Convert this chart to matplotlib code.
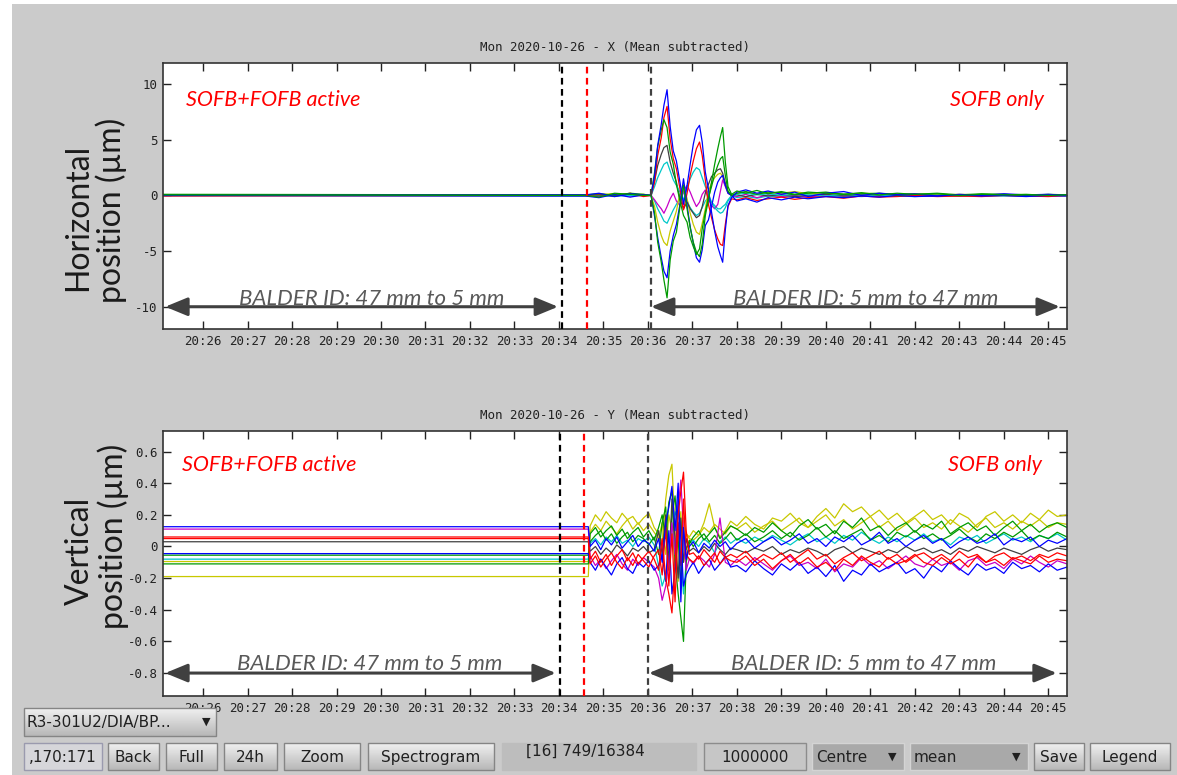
import numpy as np
import matplotlib
matplotlib.use("Agg")
import matplotlib.pyplot as plt
from matplotlib.patches import Rectangle

plt.rcParams['axes.unicode_minus'] = False

W, H = 1177, 775

# ---------------- data: horizontal plane (minutes after 20:00) ----------------
tx = [25.10, 34.60, 34.90, 35.25, 35.60, 35.90,
      36.07, 36.15, 36.22, 36.30, 36.36, 36.43, 36.50, 36.57, 36.64, 36.72,
      36.80, 36.88, 36.95, 37.02, 37.09, 37.16, 37.22, 37.29, 37.36, 37.43,
      37.50, 37.57, 37.63, 37.68, 37.74, 37.80, 37.88,
      38.00, 38.20, 38.45, 38.70, 39.00, 39.30, 39.60, 40.00, 40.40, 40.80,
      41.20, 41.60, 42.00, 42.50, 43.00, 43.50, 44.00, 44.50, 45.00, 45.42]

x_blue_a = [0.0, 0.05, 0.2, -0.1, 0.15, 0.05,
            0.0, 1.8, 4.5, 6.4, 8.1, 9.5, 6.2, 4.0, 3.1, 1.2, -0.8, 0.9, 2.8, 4.6, 5.9,
            6.3, 4.8, 2.1, 0.6, -1.5, -3.2, -4.6, -5.4, -6.0, -3.1, -0.9, -0.2,
            0.3, 0.5, 0.2, 0.4, 0.1, 0.3, -0.1, 0.2, 0.35, 0.0, 0.2, 0.1, 0.15, -0.05,
            0.1, 0.0, 0.15, 0.05, 0.1, 0.0]
x_green_a = [0.05, 0.0, -0.15, 0.2, 0.1, 0.0,
             0.0, -1.6, -4.2, -6.0, -7.6, -9.2, -5.8, -4.1, -3.3, -1.0, 0.9, -1.2, -2.9, -4.2, -5.1,
             -5.5, -4.4, -1.8, -0.4, 1.2, 2.8, 4.2, 5.3, 6.1, 3.0, 0.8, 0.1,
             0.4, 0.2, 0.45, 0.15, 0.35, 0.1, 0.3, 0.2, 0.1, 0.25, 0.05, 0.2, 0.1, 0.15,
             0.0, 0.1, 0.05, 0.1, 0.0, 0.05]
x_red_a = [-0.05, 0.0, 0.1, -0.05, 0.2, -0.1,
           0.0, 1.2, 3.6, 5.2, 7.0, 8.0, 5.1, 3.3, 2.4, 0.6, -1.3, 0.2, 1.8, 3.1, 4.2,
           4.8, 3.6, 1.4, -0.8, -2.0, -3.1, -3.9, -4.4, -4.5, -2.6, -1.0, -0.3,
           -0.4, -0.2, -0.45, -0.3, -0.15, -0.35, -0.2, -0.1, -0.25, -0.05, -0.15, -0.1, 0.0, -0.1,
           -0.05, -0.1, 0.0, -0.05, -0.1, 0.0]
x_blue_b = [0.0, -0.05, -0.2, 0.1, -0.15, 0.05,
            0.0, -1.9, -3.8, -5.6, -6.8, -7.4, -5.0, -3.6, -2.6, -0.8, 1.5, -0.9, -2.8, -4.3, -5.6,
            -6.0, -4.9, -2.7, -2.2, -1.0, 0.3, 1.2, 1.6, 1.8, 0.9, 0.2, 0.0,
            -0.5, -0.3, -0.6, -0.2, -0.4, -0.15, -0.3, -0.1, -0.2, -0.05, -0.15, 0.0, -0.1, -0.05,
            0.05, -0.05, 0.0, -0.1, 0.0, -0.05]
x_green_b = [0.1, 0.05, 0.15, 0.0, 0.2, 0.1,
             0.0, 2.1, 4.4, 5.9, 6.8, 6.1, 3.9, 2.8, 1.0, -0.5, -1.8, -2.4, -3.8, -4.6, -5.3,
             -4.8, -3.0, -1.5, -0.2, 0.8, 1.9, 2.7, 3.3, 3.5, 1.8, 0.4, 0.0,
             0.2, 0.35, 0.1, 0.3, 0.25, 0.05, 0.2, 0.3, 0.1, 0.15, 0.2, 0.05, 0.1, 0.2,
             0.05, 0.15, 0.1, 0.0, 0.1, 0.05]
x_cyan_a = [0.0, 0.0, 0.1, 0.05, 0.0, 0.05,
            0.0, 0.8, 1.6, 2.3, 2.8, 3.0, 2.2, 1.4, 0.9, 0.3, -0.4, 0.7, 1.5, 2.1, 2.5,
            2.3, 1.6, 0.8, 0.1, -0.6, -1.1, -1.4, -1.6, -1.5, -1.1, -0.5, -0.1,
            0.1, 0.2, 0.05, 0.15, 0.0, 0.1, 0.05, -0.05, 0.1, 0.0, 0.05, -0.05, 0.05, 0.0,
            0.05, -0.05, 0.0, 0.05, 0.0, 0.0]
x_cyan_b = [0.0, -0.05, 0.0, -0.1, 0.05, 0.0,
            0.0, -0.5, -1.2, -1.8, -2.3, -2.5, -1.9, -1.3, -0.8, -0.2, 0.3, -0.5, -1.1, -1.5, -1.8,
            -1.6, -1.1, -0.5, -0.2, -0.6, -0.9, -1.2, -1.2, -1.0, -0.8, -0.4, 0.0,
            -0.2, -0.1, -0.25, -0.05, -0.15, -0.1, 0.0, -0.1, -0.05, -0.1, 0.0, -0.05, -0.1, 0.0,
            -0.05, 0.0, -0.05, 0.0, -0.05, 0.0]
x_magenta = [0.0, 0.0, -0.1, 0.1, -0.05, 0.0,
             0.0, -0.4, -0.8, -1.2, -1.6, -1.0, -0.3, 0.2, -0.5, -0.9, 0.4, 0.9, 0.3, -0.4, -1.0,
             -0.6, 0.1, 0.5, -0.3, -0.9, -1.2, -0.8, 0.4, 1.4, 0.8, 0.2, 0.0,
             -0.1, 0.1, -0.2, 0.05, -0.1, 0.0, -0.15, 0.05, -0.05, 0.0, -0.1, 0.05, -0.05, 0.0,
             0.0, -0.05, 0.05, 0.0, -0.05, 0.0]
x_yellow = [0.05, 0.05, 0.1, 0.15, 0.05, 0.1,
            0.0, -1.0, -2.4, -3.6, -4.2, -4.5, -3.2, -2.3, -1.4, 0.2, 1.0, -0.3, -1.6, -2.6, -3.3,
            -3.5, -2.5, -1.2, 0.4, 1.1, 1.6, 1.9, 2.0, 1.7, 1.0, 0.3, 0.0,
            0.15, 0.3, 0.1, 0.25, 0.2, 0.35, 0.15, 0.25, 0.1, 0.2, 0.15, 0.1, 0.15, 0.05,
            0.1, 0.05, 0.1, 0.0, 0.05, 0.05]
x_gray = [0.0, 0.0, 0.05, -0.05, 0.1, 0.0,
          0.0, 1.3, 2.7, 3.7, 4.3, 4.5, 3.0, 2.0, 1.2, -0.3, -1.2, -0.6, -1.2, -1.6, -2.0,
          -1.8, -1.0, 0.2, 1.0, 1.7, 2.0, 2.3, 2.4, 2.0, 1.1, 0.3, 0.0,
          0.05, -0.1, 0.1, -0.05, 0.05, -0.1, 0.0, 0.1, -0.05, 0.05, 0.0, -0.05, 0.05, 0.0,
          -0.05, 0.05, 0.0, -0.05, 0.0, 0.0]

# ---------------- data: vertical plane ----------------
ty = [25.10, 34.66,
      34.70, 34.82, 34.94, 35.06, 35.18, 35.30, 35.42, 35.54, 35.66, 35.78, 35.90, 36.02, 36.14,
      36.24, 36.32, 36.40, 36.47, 36.54, 36.61, 36.68, 36.74, 36.80, 36.86, 36.93,
      37.02, 37.14, 37.26, 37.38, 37.50, 37.62, 37.74, 37.86,
      38.0, 38.2, 38.4, 38.6, 38.8, 39.0, 39.2, 39.4, 39.6, 39.8, 40.0, 40.2, 40.4, 40.6,
      40.8, 41.0, 41.2, 41.4, 41.6, 41.8, 42.0, 42.2, 42.4, 42.6, 42.8, 43.0, 43.2, 43.4,
      43.6, 43.8, 44.0, 44.2, 44.4, 44.6, 44.8, 45.0, 45.2, 45.42]

y_yellow_a = [-0.19, -0.19,
              0.13, 0.20, 0.16, 0.22, 0.18, 0.15, 0.21, 0.17, 0.19, 0.14, 0.18, 0.21, 0.12,
              0.08, 0.02, 0.30, 0.45, 0.52, 0.10, -0.22, -0.05, 0.18, 0.08, 0.05,
              0.04, 0.07, 0.15, 0.27, 0.12, 0.06, 0.10, 0.16,
              0.13, 0.19, 0.14, 0.11, 0.18, 0.16, 0.21, 0.15, 0.12, 0.19, 0.24, 0.18, 0.27, 0.22,
              0.25, 0.19, 0.23, 0.17, 0.21, 0.15, 0.19, 0.23, 0.17, 0.20, 0.14, 0.21, 0.18, 0.12,
              0.19, 0.22, 0.16, 0.20, 0.15, 0.21, 0.17, 0.23, 0.19, 0.20]
y_yellow_b = [-0.095, -0.095,
              0.09, 0.14, 0.10, 0.16, 0.12, 0.08, 0.13, 0.17, 0.11, 0.15, 0.10, 0.14, 0.09,
              0.05, 0.15, -0.05, 0.20, 0.10, -0.12, 0.05, 0.22, -0.10, 0.08, 0.06,
              0.10, 0.07, 0.12, 0.09, 0.14, 0.11, 0.08, 0.13,
              0.11, 0.15, 0.09, 0.13, 0.16, 0.10, 0.14, 0.18, 0.12, 0.16, 0.20, 0.13, 0.17, 0.11,
              0.15, 0.19, 0.12, 0.16, 0.10, 0.14, 0.18, 0.12, 0.15, 0.11, 0.17, 0.13, 0.09, 0.14,
              0.18, 0.12, 0.15, 0.11, 0.16, 0.13, 0.17, 0.12, 0.15, 0.14]
y_green_a = [-0.055, -0.055,
             0.08, 0.12, 0.06, 0.10, 0.13, 0.07, 0.11, 0.05, 0.09, 0.12, 0.06, 0.10, 0.04,
             0.12, 0.20, 0.05, 0.28, 0.35, -0.10, -0.30, -0.45, -0.60, -0.10, 0.02,
             0.06, 0.10, 0.04, 0.08, 0.12, 0.05, 0.09, 0.13,
             0.11, 0.07, 0.12, 0.09, 0.15, 0.10, 0.06, 0.13, 0.17, 0.11, 0.14, 0.08, 0.16, 0.12,
             0.18, 0.10, 0.13, 0.07, 0.12, 0.15, 0.09, 0.14, 0.11, 0.16, 0.08, 0.12, 0.15, 0.10,
             0.13, 0.07, 0.12, 0.16, 0.10, 0.14, 0.09, 0.13, 0.15, 0.12]
y_green_b = [-0.11, -0.11,
             0.03, 0.07, 0.10, 0.04, 0.08, 0.02, 0.06, 0.09, 0.03, 0.07, 0.05, 0.01, 0.06,
             -0.05, 0.15, 0.25, -0.10, 0.20, 0.32, 0.05, -0.25, 0.10, -0.02, 0.04,
             0.00, 0.05, 0.08, 0.03, 0.07, 0.02, 0.05, 0.09,
             0.04, 0.08, 0.03, 0.06, 0.10, 0.05, 0.09, 0.04, 0.07, 0.12, 0.06, 0.10, 0.05, 0.08,
             0.11, 0.04, 0.07, 0.03, 0.09, 0.06, 0.10, 0.05, 0.08, 0.04, 0.07, 0.11, 0.06, 0.03,
             0.08, 0.05, 0.09, 0.06, 0.10, 0.04, 0.07, 0.05, 0.09, 0.06]
y_cyan = [-0.08, -0.08,
          0.02, 0.05, 0.01, 0.06, 0.03, 0.07, 0.02, 0.04, 0.00, 0.05, 0.03, 0.06, 0.01,
          -0.12, -0.25, -0.18, -0.05, 0.10, 0.22, 0.15, -0.08, -0.30, -0.10, 0.02,
          0.04, 0.00, 0.05, 0.02, -0.04, 0.03, 0.06, 0.02,
          0.05, 0.02, 0.06, 0.03, 0.07, 0.04, 0.01, 0.05, 0.08, 0.03, 0.06, 0.02, 0.07, 0.04,
          0.09, 0.05, 0.02, 0.06, 0.03, 0.07, 0.04, 0.08, 0.03, 0.05, 0.01, 0.06, 0.04, 0.07,
          0.02, 0.05, 0.08, 0.04, 0.06, 0.03, 0.07, 0.05, 0.08, 0.04]
y_blue_a = [0.125, 0.125,
            0.00, 0.04, -0.02, 0.05, 0.01, 0.06, -0.01, 0.03, 0.07, 0.00, 0.04, 0.02, -0.03,
            0.05, -0.10, 0.15, 0.25, 0.38, 0.10, 0.40, -0.35, 0.12, -0.08, 0.00,
            0.03, -0.04, 0.02, -0.01, 0.04, 0.00, 0.03, -0.02,
            0.02, 0.05, -0.01, 0.03, 0.06, 0.01, 0.04, 0.08, 0.02, 0.05, 0.00, 0.06, 0.03, 0.07,
            0.01, 0.04, 0.09, 0.02, 0.05, 0.00, 0.04, 0.07, 0.02, 0.05, -0.01, 0.03, 0.06, 0.02,
            0.04, 0.08, 0.01, 0.05, 0.03, 0.06, 0.00, 0.04, 0.02, 0.05]
y_gray = [0.03, 0.03,
          -0.03, 0.00, -0.05, -0.01, -0.04, 0.01, -0.02, -0.06, -0.01, -0.03, 0.00, -0.04, -0.02,
          0.10, -0.05, 0.20, -0.15, 0.30, 0.05, -0.20, 0.18, -0.10, 0.05, -0.03,
          -0.01, -0.04, 0.00, -0.03, 0.02, -0.02, -0.05, -0.01,
          -0.02, -0.04, -0.01, -0.03, 0.00, -0.05, -0.02, -0.04, -0.01, -0.03, -0.06, -0.02, 0.00, -0.04,
          -0.01, -0.03, -0.05, -0.02, -0.04, 0.00, -0.03, -0.01, -0.04, -0.02, -0.05, -0.01, -0.03, 0.00,
          -0.02, -0.04, -0.01, -0.03, -0.05, -0.02, 0.00, -0.03, -0.01, -0.02]
y_red_a = [0.06, 0.06,
           -0.08, -0.03, -0.10, -0.05, -0.12, -0.06, -0.02, -0.09, -0.04, -0.11, -0.07, -0.03, -0.08,
           -0.15, 0.05, -0.20, -0.30, -0.42, -0.10, 0.20, 0.35, 0.47, 0.10, -0.05,
           -0.04, -0.08, -0.02, -0.06, -0.10, -0.03, -0.07, -0.05,
           -0.07, -0.03, -0.09, -0.05, -0.08, -0.04, -0.10, -0.06, -0.02, -0.08, -0.05, -0.11, -0.07, -0.04,
           -0.09, -0.06, -0.03, -0.08, -0.05, -0.10, -0.06, -0.04, -0.08, -0.05, -0.09, -0.03, -0.07, -0.05,
           -0.10, -0.06, -0.04, -0.08, -0.06, -0.09, -0.05, -0.07, -0.04, -0.06]
y_red_b = [0.05, 0.05,
           -0.11, -0.06, -0.13, -0.08, -0.04, -0.10, -0.14, -0.07, -0.12, -0.05, -0.09, -0.13, -0.06,
           -0.02, -0.18, 0.12, -0.25, 0.08, -0.35, 0.15, -0.12, 0.30, -0.05, -0.08,
           -0.10, -0.06, -0.12, -0.08, -0.04, -0.11, -0.07, -0.09,
           -0.10, -0.06, -0.12, -0.08, -0.14, -0.09, -0.05, -0.11, -0.07, -0.13, -0.10, -0.15, -0.08, -0.12,
           -0.06, -0.10, -0.13, -0.07, -0.11, -0.09, -0.05, -0.10, -0.12, -0.07, -0.11, -0.08, -0.13, -0.06,
           -0.10, -0.08, -0.12, -0.07, -0.09, -0.11, -0.06, -0.10, -0.08, -0.09]
y_magenta = [0.11, 0.11,
             -0.06, -0.12, -0.08, -0.14, -0.09, -0.05, -0.11, -0.15, -0.08, -0.12, -0.07, -0.10, -0.13,
             -0.20, -0.34, -0.25, -0.10, 0.15, -0.05, 0.25, 0.42, 0.10, -0.15, -0.08,
             -0.11, -0.06, -0.09, -0.13, -0.05, 0.18, -0.10, -0.12,
             -0.08, -0.12, -0.07, -0.11, -0.15, -0.09, -0.06, -0.12, -0.10, -0.14, -0.08, -0.16, -0.11, -0.13,
             -0.07, -0.12, -0.09, -0.14, -0.10, -0.06, -0.11, -0.13, -0.08, -0.12, -0.10, -0.15, -0.09, -0.07,
             -0.12, -0.10, -0.14, -0.08, -0.11, -0.06, -0.10, -0.13, -0.09, -0.11]
y_blue_b = [-0.045, -0.045,
            -0.10, -0.15, -0.08, -0.13, -0.18, -0.11, -0.07, -0.14, -0.17, -0.10, -0.13, -0.09, -0.15,
            -0.12, -0.05, -0.22, 0.10, -0.30, -0.15, 0.30, 0.05, -0.25, -0.18, -0.14,
            -0.10, -0.17, -0.12, -0.08, -0.15, -0.11, -0.06, -0.13,
            -0.12, -0.16, -0.09, -0.14, -0.18, -0.11, -0.15, -0.10, -0.17, -0.13, -0.19, -0.12, -0.22, -0.15,
            -0.18, -0.11, -0.16, -0.13, -0.10, -0.17, -0.14, -0.20, -0.12, -0.16, -0.09, -0.14, -0.18, -0.11,
            -0.15, -0.13, -0.17, -0.10, -0.14, -0.12, -0.16, -0.11, -0.15, -0.13]

minute_ticks = list(range(26, 46))
minute_labels = ["20:%02d" % m for m in minute_ticks]
x_yticks = [-10, -5, 0, 5, 10]
x_ylabels = ["-10", "-5", "0", "5", "10"]
y_yticks = [-0.8, -0.6, -0.4, -0.2, 0, 0.2, 0.4, 0.6]
y_ylabels = ["-0.8", "-0.6", "-0.4", "-0.2", "0", "0.2", "0.4", "0.6"]

BLUE, RED, GREEN, CYAN = '#0000ff', '#ff0000', '#009a00', '#00c8c8'
MAG, YEL, GRAY = '#c800c8', '#c8c800', '#404040'

fig = plt.figure(figsize=(W / 100, H / 100), dpi=100, facecolor='#cbcbcb')
ax1 = fig.add_axes([163 / W, 1 - 329 / H, 904 / W, 266 / H])
ax2 = fig.add_axes([163 / W, 1 - 696 / H, 904 / W, 265 / H])

for vals, col in [(x_cyan_b, CYAN), (x_magenta, MAG), (x_yellow, YEL), (x_gray, GRAY),
                  (x_cyan_a, CYAN), (x_red_a, RED), (x_blue_b, BLUE), (x_green_b, GREEN),
                  (x_blue_a, BLUE), (x_green_a, GREEN)]:
    ax1.plot(tx, vals, color=col, lw=0.9, zorder=2)

for vals, col in [(y_yellow_a, YEL), (y_yellow_b, YEL), (y_cyan, CYAN), (y_green_b, GREEN),
                  (y_green_a, GREEN), (y_gray, GRAY), (y_magenta, MAG), (y_blue_b, BLUE),
                  (y_red_b, RED), (y_blue_a, BLUE), (y_red_a, RED)]:
    ax2.plot(ty, vals, color=col, lw=0.9, zorder=2)


def style(ax, yt, yl, ylim):
    ax.set_xlim(25.10, 45.42)
    ax.set_ylim(*ylim)
    ax.set_xticks(minute_ticks)
    ax.set_xticklabels(minute_labels)
    ax.set_yticks(yt)
    ax.set_yticklabels(yl)
    ax.tick_params(direction='in', length=6, width=1, top=True, right=True,
                   labelsize=9, colors='#222222')
    ax.tick_params(axis='x', pad=4)
    ax.tick_params(axis='y', pad=4)
    for lbl in ax.get_xticklabels() + ax.get_yticklabels():
        lbl.set_family('DejaVu Sans Mono')
    for s in ax.spines.values():
        s.set_linewidth(1.2)
        s.set_color('#333333')


style(ax1, x_yticks, x_ylabels, (-12.0, 11.9))
style(ax2, y_yticks, y_ylabels, (-0.945, 0.73))

# event markers
for ax, xs in [(ax1, (34.07, 34.63, 36.07)), (ax2, (34.02, 34.56, 36.0))]:
    ax.axvline(xs[0], color='black', lw=1.6, ls=(0, (3, 2)), zorder=3)
    ax.axvline(xs[1], color='#ff0000', lw=1.6, ls=(0, (3, 2)), zorder=3)
    ax.axvline(xs[2], color='#404040', lw=1.6, ls=(0, (3, 2)), zorder=3)

lato = ['Lato', 'DejaVu Sans']
arrow = dict(arrowstyle='<|-|>,head_length=0.85,head_width=0.35', color='#404040',
             lw=2.2, shrinkA=0, shrinkB=0, mutation_scale=16)

for ax, yv, yt, segs, cx in [
        (ax1, -10.0, -9.86, [(25.15, 33.98), (36.07, 45.26)], (29.80, 40.90)),
        (ax2, -0.80, -0.778, [(25.15, 33.93), (36.02, 45.19)], (29.75, 40.85))]:
    for a, b in segs:
        ax.annotate('', xy=(b, yv), xytext=(a, yv), arrowprops=arrow, zorder=4)
    ax.text(cx[0], yt, 'BALDER ID: 47 mm to 5 mm', ha='center', va='baseline',
            style='italic', color='#595959', fontsize=16, family=lato, zorder=5)
    ax.text(cx[1], yt, 'BALDER ID: 5 mm to 47 mm', ha='center', va='baseline',
            style='italic', color='#595959', fontsize=16, family=lato, zorder=5)

ax1.text(25.62, 8.06, 'SOFB+FOFB active', color='#ff0000', style='italic',
         fontsize=15.5, family=lato, va='baseline', ha='left', zorder=5)
ax1.text(44.90, 8.06, 'SOFB only', color='#ff0000', style='italic',
         fontsize=15.5, family=lato, va='baseline', ha='right', zorder=5)
ax2.text(25.53, 0.475, 'SOFB+FOFB active', color='#ff0000', style='italic',
         fontsize=15.5, family=lato, va='baseline', ha='left', zorder=5)
ax2.text(44.85, 0.475, 'SOFB only', color='#ff0000', style='italic',
         fontsize=15.5, family=lato, va='baseline', ha='right', zorder=5)

fig.text(615 / W, 1 - 48 / H, 'Mon 2020-10-26 - X (Mean subtracted)', ha='center',
         va='center', family='DejaVu Sans Mono', fontsize=9, color='#222222')
fig.text(615 / W, 1 - 416 / H, 'Mon 2020-10-26 - Y (Mean subtracted)', ha='center',
         va='center', family='DejaVu Sans Mono', fontsize=9, color='#222222')

big = dict(rotation=90, ha='center', va='center', fontsize=23, family=lato, color='#1a1a1a')
fig.text(78 / W, 1 - 217 / H, 'Horizontal', **big)
fig.text(111 / W, 1 - 210 / H, 'position (µm)', **big)
fig.text(80 / W, 1 - 551 / H, 'Vertical', **big)
fig.text(113 / W, 1 - 536 / H, 'position (µm)', **big)

# ---------------- GUI widgets (pixel overlay) ----------------
ov = fig.add_axes([0, 0, 1, 1])
ov.axis('off')
ov.add_patch(Rectangle((0, 0), W, 4, fc='white', ec='none'))
ov.add_patch(Rectangle((0, 0), 12, H, fc='white', ec='none'))
shade = np.linspace(0.94, 0.72, 24).reshape(-1, 1)


def button(x0, x1, y0, y1, label, cx=None, ha='center', fs=11):
    ov.imshow(shade, extent=(x0, x1, y1, y0), aspect='auto', cmap='gray',
              vmin=0, vmax=1, zorder=1)
    ov.add_patch(Rectangle((x0, y0), x1 - x0, y1 - y0, fill=False, ec='#858585', lw=1, zorder=2))
    ov.text((x0 + x1) / 2 if cx is None else cx, (y0 + y1) / 2 + 1, label, ha=ha, va='center',
            fontsize=fs, family='DejaVu Sans', color='#202020', zorder=3)


def flat(x0, x1, y0, y1, label, face, edge, cx=None, cy=None, ha='center'):
    ov.add_patch(Rectangle((x0, y0), x1 - x0, y1 - y0, fc=face, ec=edge, lw=1, zorder=1))
    ov.text((x0 + x1) / 2 if cx is None else cx, (y0 + y1) / 2 + 1 if cy is None else cy,
            label, ha=ha, va='center', fontsize=11, family='DejaVu Sans', color='#202020', zorder=3)


button(24, 216, 708, 736, 'R3-301U2/DIA/BP...', cx=27, ha='left')
ov.text(206, 722, '▼', ha='center', va='center', fontsize=8, family='DejaVu Sans', color='#202020')

r0, r1 = 743, 770
flat(24, 102, r0, r1, ',170:171', '#d6d6da', '#9a9aae')
button(108, 159, r0, r1, 'Back')
button(166, 217, r0, r1, 'Full')
button(224, 277, r0, r1, '24h')
button(284, 360, r0, r1, 'Zoom')
button(368, 494, r0, r1, 'Spectrogram')
flat(502, 696, r0, r1, '[16] 749/16384', '#bdbdbd', '#bdbdbd', cx=585, cy=751)
flat(704, 806, r0, r1, '1000000', '#c6c6c6', '#8c8c8c')
flat(812, 904, r0, r1, 'Centre', '#a9a9a9', '#d4d4d4', cx=816, ha='left')
ov.text(892, 757, '▼', ha='center', va='center', fontsize=8, family='DejaVu Sans', color='#202020')
flat(910, 1028, r0, r1, 'mean', '#a9a9a9', '#d4d4d4', cx=914, ha='left')
ov.text(1016, 757, '▼', ha='center', va='center', fontsize=8, family='DejaVu Sans', color='#202020')
button(1034, 1084, r0, r1, 'Save')
button(1090, 1170, r0, r1, 'Legend')

ov.set_xlim(0, W)
ov.set_ylim(H, 0)

fig.savefig('out.png', dpi=100, facecolor=fig.get_facecolor())
